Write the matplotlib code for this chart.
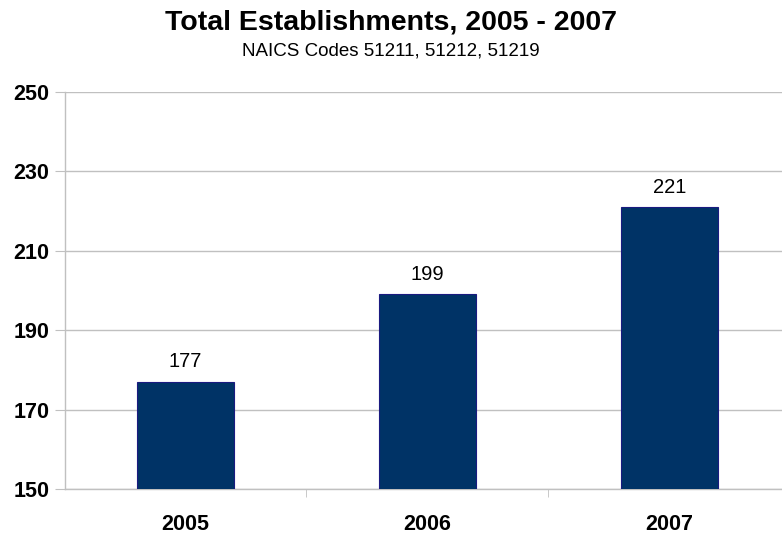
import matplotlib.pyplot as plt

years = ['2005', '2006', '2007']
establishments = [177, 199, 221]
y_ticks = [150, 170, 190, 210, 230, 250]

plt.rcParams['font.family'] = ['Liberation Sans', 'DejaVu Sans']

fig = plt.figure(figsize=(7.82, 5.35), dpi=100)
ax = fig.add_axes([0.0825, 0.086, 0.928, 0.742])

x = range(len(years))
ax.bar(x, establishments, width=0.4, color='#003366', edgecolor='#1a1a80', linewidth=0.8, zorder=3)

# value labels above bars
for i, v in enumerate(establishments):
    ax.text(i, v + 2.6, str(v), ha='center', va='bottom', fontsize=14.5)

ax.set_xlim(-0.5, 2.5)
ax.set_ylim(150, 250)
ax.set_yticks(y_ticks)
ax.set_xticks(list(x))
ax.set_xticklabels(years, fontsize=15.5, fontweight='bold')
ax.set_yticklabels([str(t) for t in y_ticks], fontsize=15.5, fontweight='bold')

# category separators as minor ticks
ax.set_xticks([0.5, 1.5], minor=True)
ax.tick_params(axis='x', which='major', length=0, pad=18)
ax.tick_params(axis='x', which='minor', length=6, color='#c0c0c0', direction='out')
ax.tick_params(axis='y', length=7, color='#c0c0c0', pad=4)

ax.grid(axis='y', color='#c0c0c0', linewidth=1, zorder=0)
for s in ['top', 'right']:
    ax.spines[s].set_visible(False)
for s in ['left', 'bottom']:
    ax.spines[s].set_color('#c0c0c0')
    ax.spines[s].set_linewidth(1)

fig.text(0.5, 1 - 30 / 535, 'Total Establishments, 2005 - 2007', ha='center', va='baseline',
         fontsize=20.5, fontweight='bold')
fig.text(0.5, 1 - 55 / 535, 'NAICS Codes 51211, 51212, 51219', ha='center', va='baseline', fontsize=13.5)

fig.savefig('out.png', dpi=100)
